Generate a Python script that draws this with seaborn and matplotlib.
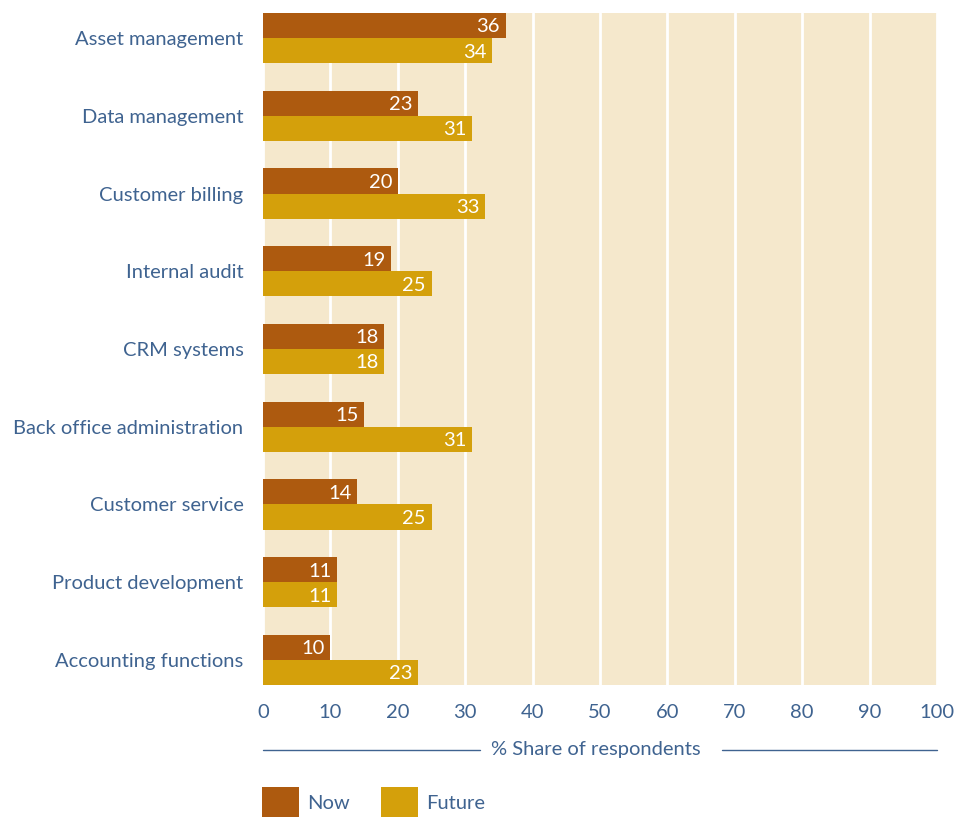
import matplotlib
matplotlib.use("Agg")
import matplotlib.pyplot as plt
import seaborn as sns
import pandas as pd
from matplotlib.patches import Patch

categories = ["Asset management", "Data management", "Customer billing", "Internal audit",
              "CRM systems", "Back office administration", "Customer service",
              "Product development", "Accounting functions"]
now_values = [36, 23, 20, 19, 18, 15, 14, 11, 10]
future_values = [34, 31, 33, 25, 18, 31, 25, 11, 23]
series_names = ["Now", "Future"]
x_ticks = [0, 10, 20, 30, 40, 50, 60, 70, 80, 90, 100]

df = pd.DataFrame({
    "category": categories * 2,
    "value": now_values + future_values,
    "series": [series_names[0]] * len(categories) + [series_names[1]] * len(categories),
})

text_color = "#3F6390"
colors = {"Now": "#AD5A0F", "Future": "#D4A00B"}
bg = "#F5E8CC"

sns.set_style("white")
plt.rcParams["font.family"] = ["Lato", "DejaVu Sans"]

fig = plt.figure(figsize=(9.55, 8.17), dpi=100)
ax = fig.add_axes([263 / 955, 1 - 685 / 817, (937 - 263) / 955, (685 - 13) / 817])
ax.set_facecolor(bg)

sns.barplot(data=df, y="category", x="value", hue="series", order=categories,
            hue_order=series_names, palette=colors, orient="h", width=0.645,
            ax=ax, legend=False, saturation=1, linewidth=0, edgecolor="none")

for c in ax.containers:
    for p in c:
        w = p.get_width()
        ax.annotate(f"{w:.0f}", (w, p.get_y() + p.get_height() / 2),
                    xytext=(-4, -1), textcoords="offset points", ha="right", va="center",
                    color="white", fontsize=14.5)

ax.set_xlim(0, 100)
ax.set_ylim(len(categories) - 1 + 0.323, -0.323)
ax.set_xticks(x_ticks)
ax.set_xticklabels([str(t) for t in x_ticks])
ax.grid(axis="x", color="white", linewidth=2)
ax.grid(axis="y", visible=False)
ax.set_axisbelow(True)
for s in ax.spines.values():
    s.set_visible(False)
ax.tick_params(axis="x", length=0, pad=14, labelsize=14.5, labelcolor=text_color)
ax.tick_params(axis="y", length=0, pad=14, labelsize=14.5, labelcolor=text_color)
ax.set_xlabel("")
ax.set_ylabel("")

# axis title with flanking lines
yl = -(750 - 685) / 672
ax.text(0.494, yl, "% Share of respondents", transform=ax.transAxes,
        ha="center", va="center", color=text_color, fontsize=14.5)
ax.plot([0, (480 - 263) / 674], [yl, yl], transform=ax.transAxes, color=text_color,
        linewidth=1, clip_on=False)
ax.plot([(722 - 263) / 674, 1], [yl, yl], transform=ax.transAxes, color=text_color,
        linewidth=1, clip_on=False)

handles = [Patch(facecolor=colors[n], edgecolor="none", label=n) for n in series_names]
leg = fig.legend(handles=handles, loc="lower left", bbox_to_anchor=(262 / 955, -0.002),
                 ncol=2, frameon=False, fontsize=14.5, handlelength=1.85, handleheight=2.05,
                 handletextpad=0.4, columnspacing=1.55, borderaxespad=0, borderpad=0)
for t in leg.get_texts():
    t.set_color(text_color)

fig.savefig("out.png", dpi=100, facecolor="white")
